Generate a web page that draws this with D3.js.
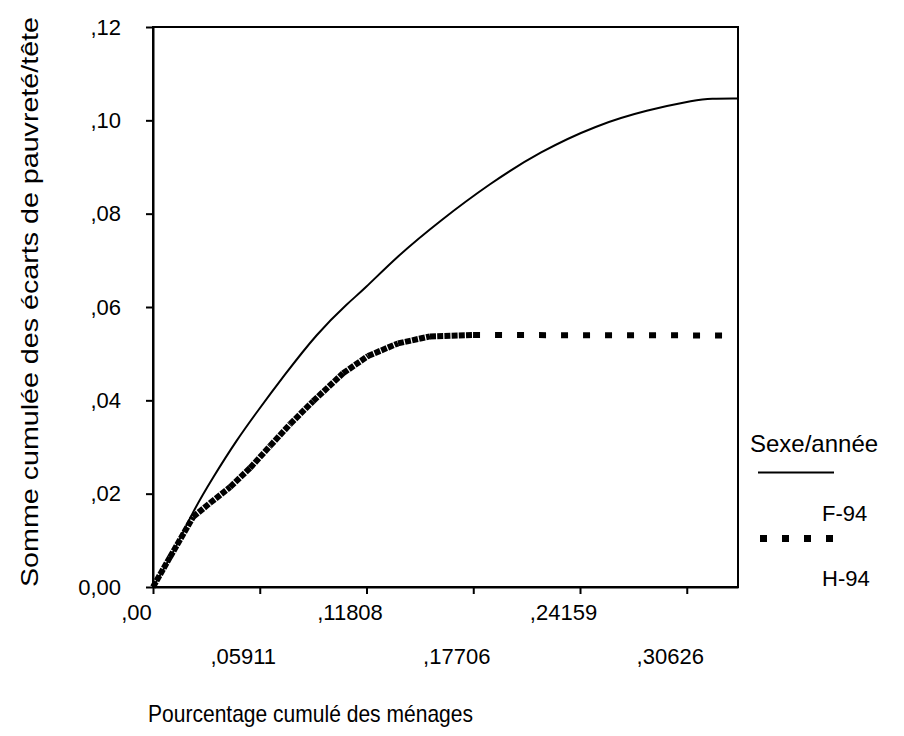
<!DOCTYPE html>
<html lang="fr">
<head>
<meta charset="utf-8">
<title>Somme cumulée des écarts de pauvreté</title>
<script src="https://d3js.org/d3.v7.min.js"></script>
<style>
  body { margin: 0; background: #fff; }
  text { font-family: "Liberation Sans", Arial, sans-serif; fill: #000; }
</style>
</head>
<body>
<script>
// x is measured in category-axis steps (SPSS places the labelled cases evenly)
const xTickLabels = [",00", ",05911", ",11808", ",17706", ",24159", ",30626"];
const yTicks = [0, 0.02, 0.04, 0.06, 0.08, 0.10, 0.12];

// F-94 (solid)
const fX = [0, 0.19, 0.363, 0.565, 0.784, 0.986, 1.221, 1.533, 1.836, 1.97, 2.283, 2.689, 3.157, 3.625, 4.157, 4.625, 5.093, 5.218, 5.471];
const fY = [0, 0.0072, 0.0158, 0.0236, 0.0315, 0.0379, 0.0451, 0.0543, 0.0611, 0.0636, 0.0708, 0.0785, 0.0865, 0.0933, 0.099, 0.1022, 0.1044, 0.1047, 0.1047];

// H-94 (heavy dotted)
const hX = [0, 0.159, 0.375, 0.534, 0.722, 0.909, 1.096, 1.284, 1.499, 1.780, 2.014, 2.295, 2.595, 2.998, 5.471];
const hY = [0, 0.0064, 0.0150, 0.0180, 0.0214, 0.0255, 0.0302, 0.0349, 0.0398, 0.0458, 0.0495, 0.0522, 0.0537, 0.0540, 0.0539];

const w = 904, h = 736;
const plotL = 153, plotR = 738, plotT = 27, plotB = 587;

const svg = d3.select("body").append("svg")
  .attr("width", w)
  .attr("height", h);

const x = d3.scaleLinear().domain([0, 5.48]).range([plotL, plotR]);
const y = d3.scaleLinear().domain([0, 0.12]).range([plotB, plotT]);

const yFmt = d => d === 0 ? "0,00" : "," + d.toFixed(2).slice(2);

// frame
svg.append("rect")
  .attr("x", plotL).attr("y", plotT)
  .attr("width", plotR - plotL).attr("height", plotB - plotT)
  .attr("fill", "none").attr("stroke", "#000").attr("stroke-width", 2);

const xAxis = d3.axisBottom(x)
  .tickValues(d3.range(xTickLabels.length))
  .tickFormat((d, i) => xTickLabels[i])
  .tickSize(7)
  .tickSizeOuter(0);

const gx = svg.append("g")
  .attr("transform", "translate(0," + plotB + ")")
  .call(xAxis);
gx.select(".domain").attr("stroke-width", 2);
gx.selectAll(".tick line").attr("stroke-width", 2);
gx.selectAll(".tick text")
  .attr("font-size", 22)
  .attr("fill", "#000")
  .attr("dy", null)
  .attr("dx", -17)
  .attr("y", (d, i) => i % 2 ? 77 : 33);

const yAxis = d3.axisLeft(y)
  .tickValues(yTicks)
  .tickFormat(yFmt)
  .tickSize(7)
  .tickSizeOuter(0);

const gy = svg.append("g")
  .attr("transform", "translate(" + plotL + ",0)")
  .call(yAxis);
gy.select(".domain").attr("stroke-width", 2);
gy.selectAll(".tick line").attr("stroke-width", 2);
gy.selectAll(".tick text")
  .attr("font-size", 22)
  .attr("fill", "#000")
  .attr("x", -32);

// F-94 line
const fData = fX.map((v, i) => [v, fY[i]]);
const line = d3.line()
  .x(d => x(d[0]))
  .y(d => y(d[1]))
  .curve(d3.curveBasis);
svg.append("path")
  .datum(fData)
  .attr("d", line)
  .attr("fill", "none")
  .attr("stroke", "#000")
  .attr("stroke-width", 2);

// H-94: each segment restarts the dash, so short segments look nearly solid
const hData = hX.map((v, i) => [v, hY[i]]);
svg.append("g").selectAll("line")
  .data(d3.pairs(hData))
  .join("line")
  .attr("x1", d => x(d[0][0]))
  .attr("y1", d => y(d[0][1]))
  .attr("x2", d => x(d[1][0]))
  .attr("y2", d => y(d[1][1]))
  .attr("stroke", "#000")
  .attr("stroke-width", 6)
  .attr("stroke-dasharray", d => {
    const len = Math.hypot(x(d[1][0]) - x(d[0][0]), y(d[1][1]) - y(d[0][1]));
    return len > 80 ? "7,15" : "6,1.2";
  });

// axis titles
svg.append("text")
  .attr("transform", "translate(30,302) rotate(-90)")
  .attr("text-anchor", "middle")
  .attr("dy", "0.35em")
  .attr("font-size", 24)
  .attr("textLength", 570)
  .attr("lengthAdjust", "spacingAndGlyphs")
  .text("Somme cumulée des écarts de pauvreté/tête");

svg.append("text")
  .attr("x", 148)
  .attr("y", 722)
  .attr("font-size", 24)
  .attr("textLength", 325)
  .attr("lengthAdjust", "spacingAndGlyphs")
  .text("Pourcentage cumulé des ménages");

// legend
const lg = svg.append("g");
lg.append("text")
  .attr("x", 750).attr("y", 452)
  .attr("font-size", 24)
  .text("Sexe/année");
lg.append("line")
  .attr("x1", 758).attr("x2", 834)
  .attr("y1", 472.5).attr("y2", 472.5)
  .attr("stroke", "#000").attr("stroke-width", 2);
lg.append("text")
  .attr("x", 822).attr("y", 521)
  .attr("font-size", 22)
  .text("F-94");
lg.append("line")
  .attr("x1", 760).attr("x2", 833)
  .attr("y1", 538.5).attr("y2", 538.5)
  .attr("stroke", "#000").attr("stroke-width", 7)
  .attr("stroke-dasharray", "7,15");
lg.append("text")
  .attr("x", 822).attr("y", 586)
  .attr("font-size", 22)
  .text("H-94");
</script>
</body>
</html>
